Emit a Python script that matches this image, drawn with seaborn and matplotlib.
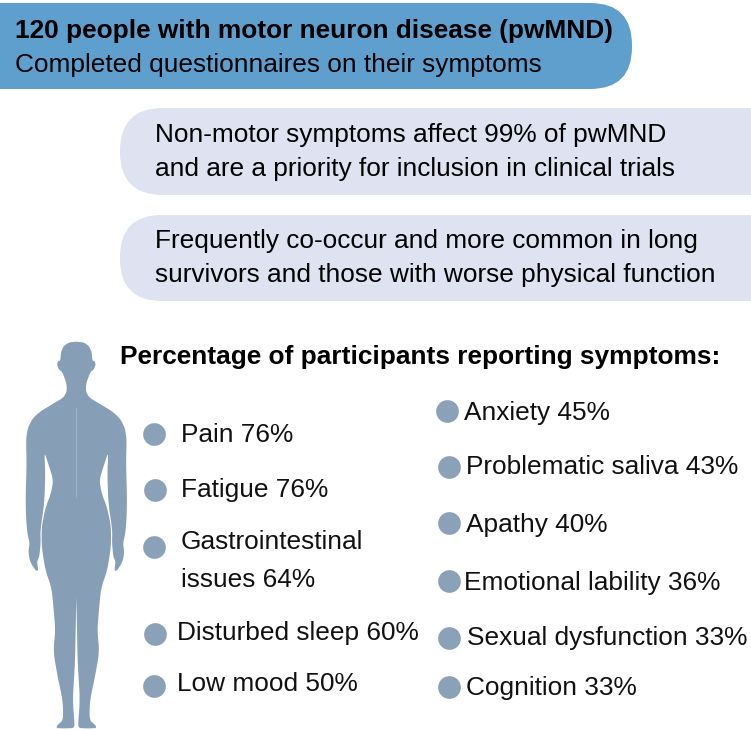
import numpy as np
import pandas as pd
import seaborn as sns
import matplotlib.pyplot as plt
from matplotlib.patches import FancyBboxPatch, Polygon

# symptom data
left_names = ["Pain", "Fatigue", "Gastrointestinal\nissues", "Disturbed sleep", "Low mood"]
left_pct = [76, 76, 64, 60, 50]
right_names = ["Anxiety", "Problematic saliva", "Apathy", "Emotional lability", "Sexual dysfunction", "Cognition"]
right_pct = [45, 43, 40, 36, 33, 33]

# text blocks
head_bold = "120 people with motor neuron disease (pwMND)"
head_sub = "Completed questionnaires on their symptoms"
box1_lines = ["Non-motor symptoms affect 99% of pwMND", "and are a priority for inclusion in clinical trials"]
box2_lines = ["Frequently co-occur and more common in long", "survivors and those with worse physical function"]
list_title = "Percentage of participants reporting symptoms:"

# layout in pixels
left_dot_x = [154, 155, 154, 155, 154]
left_dot_y = [434, 490, 547, 634, 686]
left_txt_x = [181, 181, 181, 177, 177]
left_txt_y = [435, 490, 561, 633, 684]
right_dot_x = [447, 449, 449, 449, 449, 449]
right_dot_y = [411, 467, 523, 581, 638, 687]
right_txt_x = [464, 466, 466, 464, 467, 466]
right_txt_y = [413, 467, 525, 583, 638, 688]

blue = "#5f9fce"
lavender = "#dee2f1"
slate = "#869eb6"

sns.set_theme(style="white")
plt.rcParams['font.family'] = ['Liberation Sans', 'DejaVu Sans']

fig = plt.figure(figsize=(7.51, 7.30), dpi=100)
ax = fig.add_axes([0, 0, 1, 1])

# rounded boxes, the square sides run off the canvas
def box(x0, y0, x1, y1, r, color):
    p = FancyBboxPatch((x0 + r, y0 + r), x1 - x0 - 2 * r, y1 - y0 - 2 * r,
                       boxstyle=f"round,pad={r},rounding_size={r}",
                       fc=color, ec="none", zorder=1)
    ax.add_patch(p)

box(-80, 3, 632, 89, 42, blue)
box(120, 108, 840, 195, 43, lavender)
box(120, 215, 840, 301, 42, lavender)

fs = 18.95
ax.text(15, 31, head_bold, fontsize=fs, fontweight="bold", color="black", va="center", zorder=3)
ax.text(15, 65, head_sub, fontsize=fs, color="black", va="center", zorder=3)
ax.text(155, 135, box1_lines[0], fontsize=fs, color="black", va="center", zorder=3)
ax.text(155, 169, box1_lines[1], fontsize=fs, color="black", va="center", zorder=3)
ax.text(155, 241, box2_lines[0], fontsize=fs, color="black", va="center", zorder=3)
ax.text(155, 275, box2_lines[1], fontsize=fs, color="black", va="center", zorder=3)
ax.text(120, 357, list_title, fontsize=fs, fontweight="bold", color="black", va="center", zorder=3)

# body outline, right half, mirrored for the left
half = np.array([
    (229, 35), (250, 37), (266, 47), (275, 65), (277, 92), (284, 93), (287, 103),
    (282, 118), (272, 125), (262, 150), (258, 165), (258, 185), (268, 203), (300, 222),
    (335, 243), (360, 265), (375, 295), (380, 330), (378, 400), (381, 500), (380, 560),
    (376, 610), (369, 640), (373, 665), (368, 695), (351, 722), (343, 722), (347, 695),
    (340, 680), (336, 640), (337, 600), (325, 520), (322, 430), (325, 365), (312, 405),
    (298, 450), (305, 490), (322, 535), (333, 590), (333, 650), (322, 720), (303, 775),
    (296, 850), (292, 900), (298, 965), (285, 1040), (270, 1110), (268, 1170), (288, 1187),
    (288, 1195), (238, 1195), (234, 1185), (240, 1110), (233, 1000), (231, 900), (229, 800),
], dtype=float)
xs = half[:, 0] / 3
ys = half[:, 1] / 3 + 330
cx = 229 / 3
outline = np.r_[np.c_[xs, ys], np.c_[2 * cx - xs[::-1], ys[::-1]]]

# round off the corners of the traced outline
for _ in range(2):
    nxt = np.roll(outline, -1, axis=0)
    outline = np.c_[0.8 * outline + 0.2 * nxt, 0.2 * outline + 0.8 * nxt].reshape(-1, 2)

ax.add_patch(Polygon(outline, closed=True, fc=slate, ec="none", zorder=2))
ax.plot([cx, cx], [408, 497], color="#a6b8c9", lw=0.6, zorder=3)

# bullet dots
dots = pd.DataFrame({
    "x": left_dot_x + right_dot_x,
    "y": left_dot_y + right_dot_y,
    "pct": left_pct + right_pct,
})
sns.scatterplot(data=dots, x="x", y="y", s=267, color="#8ba1b7", linewidth=0, ax=ax, legend=False, zorder=2)
ax.set_xlim(0, 751)
ax.set_ylim(730, 0)
ax.axis("off")

# symptom labels
for name, pct, x, y in zip(left_names, left_pct, left_txt_x, left_txt_y):
    ax.text(x, y, f"{name} {pct}%", fontsize=fs, color="#111111", va="center", linespacing=1.7, zorder=3)
for name, pct, x, y in zip(right_names, right_pct, right_txt_x, right_txt_y):
    ax.text(x, y, f"{name} {pct}%", fontsize=fs, color="#111111", va="center", zorder=3)

fig.savefig("out.png", dpi=100)
